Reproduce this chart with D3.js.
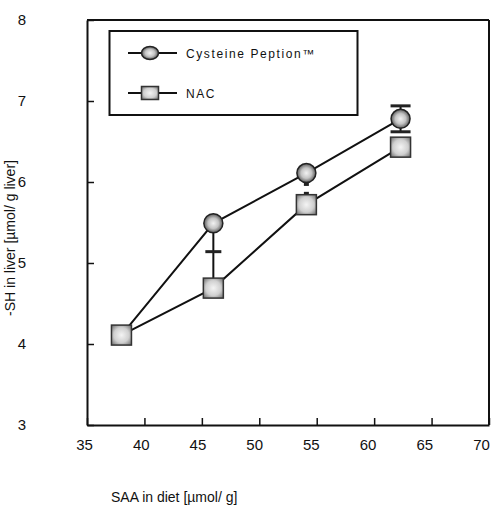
<!DOCTYPE html>
<html><head><meta charset="utf-8">
<script src="https://cdn.jsdelivr.net/npm/d3@7"></script>
<style>body{margin:0;background:#fff;} svg{display:block;font-family:"Liberation Sans",Arial,sans-serif;}</style>
</head><body><svg id="c" width="493" height="517"></svg>
<script>
const xValues = [38.0, 46.0, 54.1, 62.3];
const cysteine = [4.11, 5.49, 6.11, 6.78];
const cysErrUp = [0, 0, 0, 0.16];
const cysErrDown = [0, 0.35, 0.14, 0.16];
const nac = [4.11, 4.69, 5.72, 6.43];
const nacErrUp = [0, 0.45, 0.14, 0];
const nacErrDown = [0, 0, 0, 0];
const xTicks = [35, 40, 45, 50, 55, 60, 65, 70];
const yTicks = [3, 4, 5, 6, 7, 8];
const seriesNames = ["Cysteine Peption\u2122", "NAC"];

const svg = d3.select("#c");
const L = 87, R = 489, T = 20, B = 425;
const x = d3.scaleLinear().domain([35, 70]).range([L, R]);
const y = d3.scaleLinear().domain([3, 8]).range([B, T]);

const defs = svg.append("defs");
const g1 = defs.append("radialGradient").attr("id", "gc");
g1.append("stop").attr("offset", "0%").attr("stop-color", "#f2f2f2");
g1.append("stop").attr("offset", "55%").attr("stop-color", "#c4c4c4");
g1.append("stop").attr("offset", "100%").attr("stop-color", "#5a5a5a");
const g2 = defs.append("radialGradient").attr("id", "gs").attr("r", "0.75");
g2.append("stop").attr("offset", "0%").attr("stop-color", "#f4f4f4");
g2.append("stop").attr("offset", "50%").attr("stop-color", "#d0d0d0");
g2.append("stop").attr("offset", "100%").attr("stop-color", "#555");

// axes
const xAxis = d3.axisBottom(x).tickValues(xTicks).tickFormat(d3.format("d"))
  .tickSizeInner(-7).tickSizeOuter(0).tickPadding(14);
const gx = svg.append("g").attr("transform", `translate(0,${B})`).call(xAxis);
gx.selectAll("text").attr("font-size", 15).attr("fill", "#111").attr("dx", d => -(3 + (d - 35) / 7));
gx.selectAll(".tick line").attr("stroke", "#111").attr("stroke-width", 1.5);
gx.select(".domain").attr("stroke", "#111").attr("stroke-width", 2);

const yAxis = d3.axisLeft(y).tickValues(yTicks).tickFormat(d3.format("d"))
  .tickSizeInner(-7).tickSizeOuter(0).tickPadding(65);
const gy = svg.append("g").attr("transform", `translate(${L},0)`).call(yAxis);
gy.selectAll("text").attr("font-size", 15).attr("fill", "#111").attr("text-anchor", "middle");
gy.selectAll(".tick line").attr("stroke", "#111").attr("stroke-width", 1.5);
gy.select(".domain").attr("stroke", "#111").attr("stroke-width", 2);

// frame top/right
svg.append("line").attr("x1", L).attr("x2", R).attr("y1", T).attr("y2", T).attr("stroke", "#111").attr("stroke-width", 2);
svg.append("line").attr("x1", R).attr("x2", R).attr("y1", T).attr("y2", B).attr("stroke", "#111").attr("stroke-width", 2);

// axis titles
svg.append("text").attr("x", 111).attr("y", 502).attr("font-size", 14).attr("fill", "#111")
  .text("SAA in diet [\u00b5mol/ g]");
svg.append("text").attr("transform", "translate(15,238) rotate(-90)").attr("text-anchor", "middle")
  .attr("font-size", 14).attr("fill", "#111").text("-SH in liver [\u00b5mol/ g liver]");

// lines
const line = d3.line().x(d => x(d[0])).y(d => y(d[1]));
const cysPts = xValues.map((v, i) => [v, cysteine[i]]);
const nacPts = xValues.map((v, i) => [v, nac[i]]);
svg.append("path").attr("d", line(cysPts)).attr("fill", "none").attr("stroke", "#111").attr("stroke-width", 2);
svg.append("path").attr("d", line(nacPts)).attr("fill", "none").attr("stroke", "#111").attr("stroke-width", 2);

// error bars
function errBars(vals, up, down, capW) {
  vals.forEach((v, i) => {
    const cx = x(xValues[i]);
    if (up[i] > 0) {
      svg.append("line").attr("x1", cx).attr("x2", cx).attr("y1", y(v)).attr("y2", y(v + up[i])).attr("stroke", "#111").attr("stroke-width", 2);
      svg.append("line").attr("x1", cx - capW[i] / 2).attr("x2", cx + capW[i] / 2).attr("y1", y(v + up[i])).attr("y2", y(v + up[i])).attr("stroke", "#222").attr("stroke-width", 3);
    }
    if (down[i] > 0) {
      svg.append("line").attr("x1", cx).attr("x2", cx).attr("y1", y(v)).attr("y2", y(v - down[i])).attr("stroke", "#111").attr("stroke-width", 2);
      svg.append("line").attr("x1", cx - capW[i] / 2).attr("x2", cx + capW[i] / 2).attr("y1", y(v - down[i])).attr("y2", y(v - down[i])).attr("stroke", "#222").attr("stroke-width", 3);
    }
  });
}
errBars(cysteine, cysErrUp, cysErrDown, [0, 0, 5, 20]);
errBars(nac, nacErrUp, nacErrDown, [0, 16, 5, 0]);

// markers
const S = 20;
svg.selectAll(".sq").data(nacPts).join("rect")
  .attr("x", d => x(d[0]) - S / 2).attr("y", d => y(d[1]) - S / 2).attr("width", S).attr("height", S)
  .attr("fill", "url(#gs)").attr("stroke", "#333").attr("stroke-width", 1.5);
svg.selectAll(".ci").data(cysPts.slice(1)).join("circle")
  .attr("cx", d => x(d[0])).attr("cy", d => y(d[1])).attr("r", 9.5)
  .attr("fill", "url(#gc)").attr("stroke", "#222").attr("stroke-width", 1.5);

// legend
svg.append("rect").attr("x", 109.5).attr("y", 31).attr("width", 248).attr("height", 84)
  .attr("fill", "#fff").attr("stroke", "#111").attr("stroke-width", 2);
const rows = [53, 93];
rows.forEach((ry, i) => {
  svg.append("line").attr("x1", 128).attr("x2", 177).attr("y1", ry).attr("y2", ry).attr("stroke", "#111").attr("stroke-width", 2);
  if (i === 0) {
    svg.append("ellipse").attr("cx", 150).attr("cy", ry).attr("rx", 8.5).attr("ry", 6.5)
      .attr("fill", "url(#gc)").attr("stroke", "#222").attr("stroke-width", 1.5);
  } else {
    svg.append("rect").attr("x", 141.5).attr("y", ry - 6.5).attr("width", 17).attr("height", 13)
      .attr("fill", "url(#gs)").attr("stroke", "#333").attr("stroke-width", 1.5);
  }
  svg.append("text").attr("x", 186).attr("y", ry + 5).attr("font-size", 12).attr("letter-spacing", "1.6")
    .attr("fill", "#111").text(seriesNames[i]);
});
</script></body></html>
